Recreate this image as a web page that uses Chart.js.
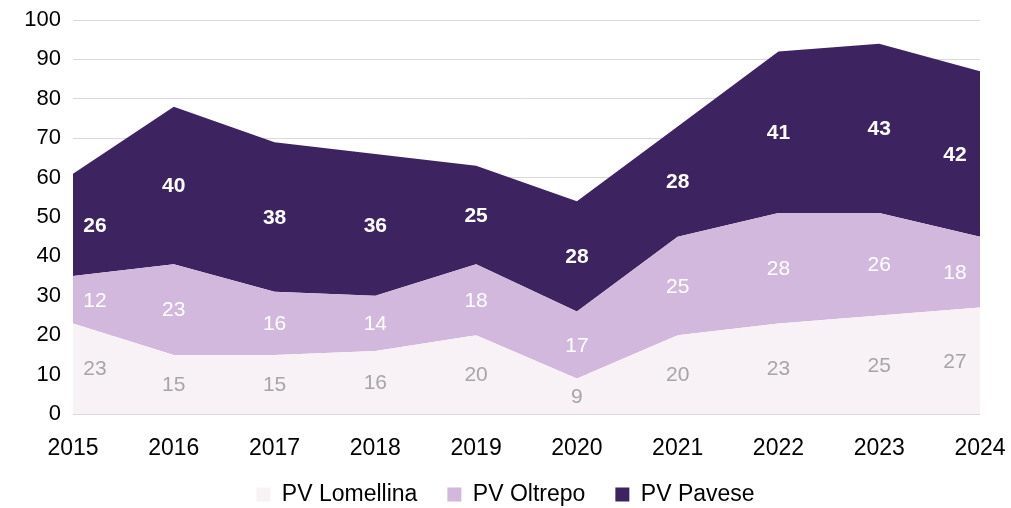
<!DOCTYPE html>
<html>
<head>
<meta charset="utf-8">
<script src="https://cdn.jsdelivr.net/npm/chart.js@4"></script>
<style>
    html, body { margin: 0; padding: 0; background: #fff; }
    #wrap { width: 1011px; height: 508px; }
</style>
</head>
<body>
<div id="wrap"><canvas id="areaChart"></canvas></div>
<script>
    const years = ["2015", "2016", "2017", "2018", "2019", "2020", "2021", "2022", "2023", "2024"];
    const lomellina = [23, 15, 15, 16, 20, 9, 20, 23, 25, 27];
    const oltrepo = [12, 23, 16, 14, 18, 17, 25, 28, 26, 18];
    const pavese = [26, 40, 38, 36, 25, 28, 28, 41, 43, 42];
    const yTicks = [0, 10, 20, 30, 40, 50, 60, 70, 80, 90, 100];

    const fontName = "'Liberation Sans', Arial, sans-serif";

    // label colours / weights per series
    const labelStyle = [
        { color: "#a6a6a6", weight: "normal" },
        { color: "#ffffff", weight: "normal" },
        { color: "#ffffff", weight: "bold" }
    ];

    // values written in the middle of every band
    const bandLabels = {
        id: "bandLabels",
        afterDatasetsDraw(chart) {
            const ctx = chart.ctx;
            const yScale = chart.scales.y;
            ctx.save();
            ctx.textAlign = "center";
            ctx.textBaseline = "middle";
            chart.data.datasets.forEach(function (ds, i) {
                const meta = chart.getDatasetMeta(i);
                const st = labelStyle[i];
                ctx.fillStyle = st.color;
                ctx.font = st.weight + " 21px " + fontName;
                meta.data.forEach(function (pt, j) {
                    let below = 0;
                    for (let k = 0; k < i; k++) below += chart.data.datasets[k].data[j];
                    const yMid = yScale.getPixelForValue(below + ds.data[j] / 2);
                    let x = pt.x;
                    if (j == 0) x += 22;
                    if (j == meta.data.length - 1) x -= 25;
                    ctx.fillText(ds.data[j], x, yMid + 1);
                });
            });
            ctx.restore();
        }
    };

    // legend keeps its 30px gaps between items but sits closer to the axis
    const legendFit = {
        id: "legendFit",
        beforeInit(chart) {
            const origFit = chart.legend.fit;
            chart.legend.fit = function () {
                origFit.call(this);
                this.height = 46;
            };
        },
        afterLayout(chart) {
            chart.legend.top -= 9;
        }
    };

    new Chart(document.getElementById("areaChart"), {
        type: "line",
        data: {
            labels: years,
            datasets: [{
                label: "PV Lomellina",
                data: lomellina,
                backgroundColor: "#f8f1f6",
                fill: "origin"
            }, {
                label: "PV Oltrepo",
                data: oltrepo,
                backgroundColor: "#d3b8dd",
                fill: "-1"
            }, {
                label: "PV Pavese",
                data: pavese,
                backgroundColor: "#3d2461",
                fill: "-1"
            }]
        },
        options: {
            responsive: true,
            maintainAspectRatio: false,
            animation: false,
            elements: {
                line: { borderWidth: 0, tension: 0 },
                point: { radius: 0, hoverRadius: 0 }
            },
            layout: { padding: { top: 20, right: 0, left: 0, bottom: 0 } },
            plugins: {
                tooltip: { enabled: false },
                legend: {
                    position: "bottom",
                    labels: {
                        color: "#000",
                        font: { family: fontName, size: 23 },
                        boxWidth: 14,
                        boxHeight: 14,
                        padding: 30,
                        generateLabels: function (chart) {
                            return chart.data.datasets.map(function (ds, i) {
                                return {
                                    text: ds.label,
                                    fillStyle: ds.backgroundColor,
                                    strokeStyle: ds.backgroundColor,
                                    lineWidth: 0,
                                    fontColor: "#000",
                                    datasetIndex: i
                                };
                            });
                        }
                    }
                }
            },
            scales: {
                x: {
                    offset: false,
                    grid: { display: false, drawTicks: false },
                    border: { display: false },
                    afterFit: function (axis) {
                        axis.height = 48;
                        axis.paddingLeft = 0;
                        axis.paddingRight = 31;
                    },
                    ticks: {
                        color: "#000",
                        font: { family: fontName, size: 23 },
                        padding: 21,
                        maxRotation: 0
                    }
                },
                y: {
                    stacked: true,
                    min: 0,
                    max: 100,
                    afterBuildTicks: function (axis) {
                        axis.ticks = yTicks.map(function (v) { return { value: v }; });
                    },
                    afterFit: function (axis) {
                        axis.width = 73;
                        axis.paddingTop = 0;
                        axis.paddingBottom = 0;
                    },
                    grid: { color: "#d9d9d9", lineWidth: 1, drawTicks: false },
                    border: { display: false },
                    ticks: {
                        color: "#000",
                        font: { family: fontName, size: 22 },
                        padding: 12
                    }
                }
            }
        },
        plugins: [bandLabels, legendFit]
    });
</script>
</body>
</html>
